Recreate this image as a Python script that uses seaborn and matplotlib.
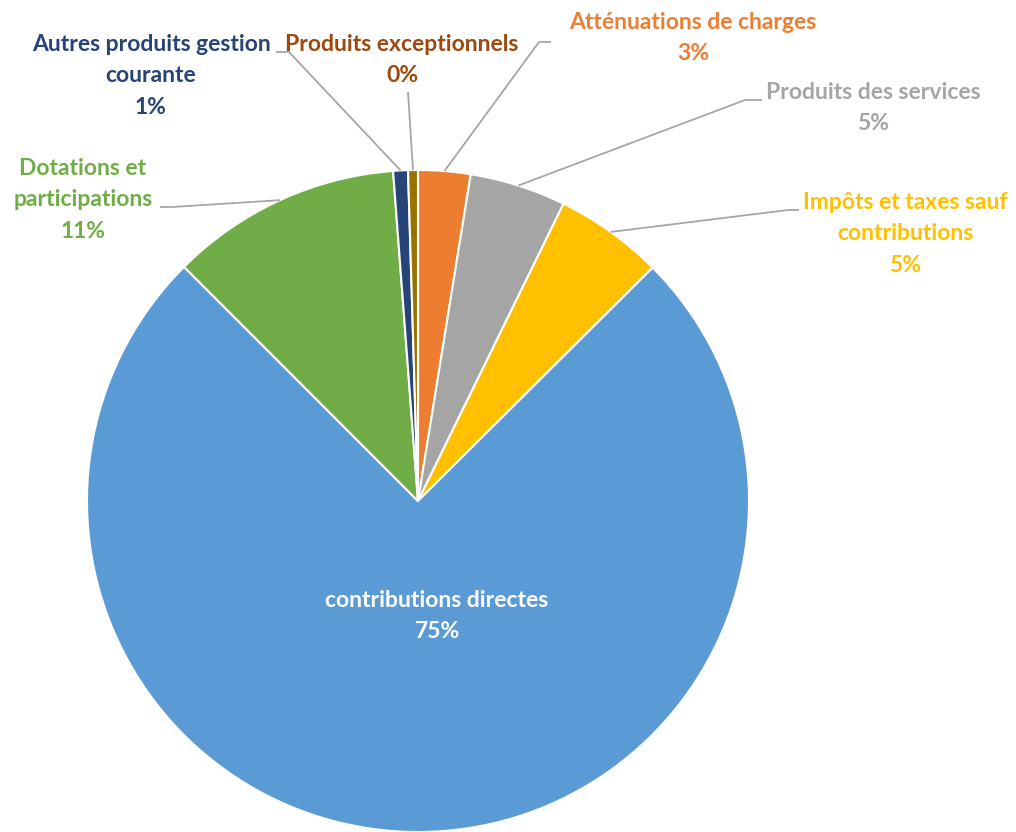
import numpy as np
import matplotlib
matplotlib.use("Agg")
import matplotlib.pyplot as plt
import seaborn as sns

# data (clockwise from 12 o'clock)
categories = ["Atténuations de charges",
              "Produits des services",
              "Impôts et taxes sauf\ncontributions",
              "contributions directes",
              "Dotations et\nparticipations",
              "Autres produits gestion\ncourante",
              "Produits exceptionnels"]
values = [2.55, 4.7, 5.3, 75.0, 11.3, 0.72, 0.48]
slice_colors = ["#ED7D31", "#A5A5A5", "#FFC000", "#5B9BD5", "#70AD47", "#264478", "#997300"]
text_colors = ["#ED7D31", "#A5A5A5", "#FFC000", "#FFFFFF", "#70AD47", "#264478", "#9E480E"]

# label layout in pixels (x, y of text block centre) and leader elbow points
W, H = 1016, 832
cx, cy, R = 418, 501, 331
label_pos = [(693, 38), (873, 108), (905, 234), (437, 616), (83, 200), (151, 76), (402, 60)]
elbows = [[(539, 42), (551, 42)],
          [(745, 100), (762, 100)],
          [(788, 210), (799, 210)],
          None,
          [(172, 207), (160, 207)],
          [(289, 52), (276, 52)],
          [(408, 92)]]

sns.set_theme(style="white")
plt.rcParams['font.family'] = ['Lato', 'DejaVu Sans']

fig = plt.figure(figsize=(10.16, 8.32), dpi=100)
ax = fig.add_axes([0, 0, 1, 1])

ax.pie(values, colors=slice_colors, startangle=90, counterclock=False,
       center=(cx, H - cy), radius=R,
       wedgeprops=dict(edgecolor="white", linewidth=1.5))
ax.set_xlim(0, W)
ax.set_ylim(0, H)
ax.set_aspect("equal")
ax.axis("off")

total = sum(values)
frac = np.array(values) / total
mids = np.cumsum(frac) - frac / 2

for i, name in enumerate(categories):
    pct = int(np.floor(frac[i] * 100 + 0.5))
    tx, ty = label_pos[i]
    ax.text(tx, H - ty, f"{name}\n{pct}%", ha="center", va="center",
            color=text_colors[i], fontsize=16.5, fontweight="bold",
            linespacing=1.6)
    if elbows[i] is None:
        continue
    ang = 2 * np.pi * mids[i]
    px = cx + R * np.sin(ang)
    py = cy - R * np.cos(ang)
    pts = [(px, py)] + elbows[i]
    xs = [p[0] for p in pts]
    ys = [H - p[1] for p in pts]
    ax.plot(xs, ys, color="#A6A6A6", lw=1.3, solid_capstyle="butt")

fig.savefig("out.png", dpi=100)
